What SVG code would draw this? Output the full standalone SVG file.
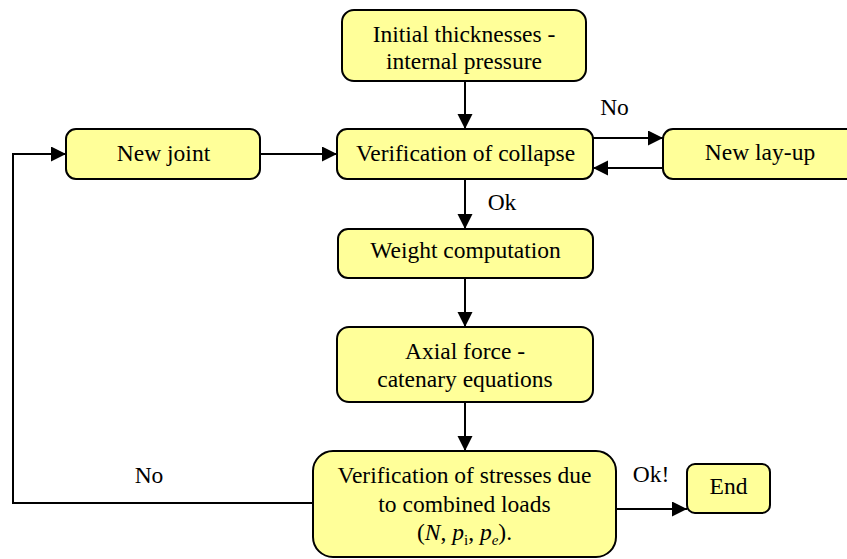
<svg xmlns="http://www.w3.org/2000/svg" width="847" height="559" viewBox="0 0 847 559">
<defs>
<marker id="a" markerUnits="userSpaceOnUse" markerWidth="16" markerHeight="16" refX="15" refY="7.5" orient="auto">
<path d="M0,0 L15,7.5 L0,15 Z" fill="#000"/>
</marker>
</defs>
<g font-family="Liberation Serif" font-size="23.5" text-anchor="middle" fill="#000">
<g id="connectors" stroke-width="2">
<line stroke="#000" x1="465" y1="81" x2="465" y2="129" marker-end="url(#a)"/>
<line stroke="#000" x1="260" y1="154" x2="337" y2="154" marker-end="url(#a)"/>
<line stroke="#000" x1="593" y1="138" x2="663" y2="138" marker-end="url(#a)"/>
<line stroke="#000" x1="663" y1="168" x2="593" y2="168" marker-end="url(#a)"/>
<line stroke="#000" x1="465" y1="179" x2="465" y2="229" marker-end="url(#a)"/>
<line stroke="#000" x1="465" y1="278" x2="465" y2="327" marker-end="url(#a)"/>
<line stroke="#000" x1="465" y1="402" x2="465" y2="451" marker-end="url(#a)"/>
<polyline stroke="#000" fill="none" points="313,503 13,503 13,154 66,154" marker-end="url(#a)"/>
<line stroke="#000" x1="616" y1="509" x2="687" y2="509" marker-end="url(#a)"/>
<text x="614.5" y="115">No</text>
<text x="502" y="210">Ok</text>
<text x="149" y="483">No</text>
<text x="651" y="482">Ok!</text>
</g>
<g id="initial">
<rect fill="#FFFF99" stroke="#000" stroke-width="2" x="342" y="10" width="244" height="71" rx="12"/>
<text x="464" y="42">Initial thicknesses -</text>
<text x="464" y="69">internal pressure</text>
</g>
<g id="newjoint">
<rect fill="#FFFF99" stroke="#000" stroke-width="2" x="66" y="129" width="194" height="50" rx="10"/>
<text x="163.5" y="161">New joint</text>
</g>
<g id="collapse">
<rect fill="#FFFF99" stroke="#000" stroke-width="2" x="337" y="129" width="256" height="50" rx="10"/>
<text x="465.5" y="161">Verification of collapse</text>
</g>
<g id="layup">
<rect fill="#FFFF99" stroke="#000" stroke-width="2" x="663" y="129" width="200" height="50" rx="10"/>
<text x="760" y="160">New lay-up</text>
</g>
<g id="weight">
<rect fill="#FFFF99" stroke="#000" stroke-width="2" x="338" y="229" width="255" height="49" rx="10"/>
<text x="465.5" y="258">Weight computation</text>
</g>
<g id="axial">
<rect fill="#FFFF99" stroke="#000" stroke-width="2" x="337" y="327" width="256" height="75" rx="12"/>
<text x="465" y="359">Axial force -</text>
<text x="465" y="387">catenary equations</text>
</g>
<g id="stresses">
<rect fill="#FFFF99" stroke="#000" stroke-width="2" x="313" y="451" width="303" height="106" rx="20"/>
<text x="464.5" y="483">Verification of stresses due</text>
<text x="464.5" y="512">to combined loads</text>
<text x="464.5" y="540">(<tspan font-style="italic">N</tspan>, <tspan font-style="italic">p</tspan><tspan font-size="15" dy="5">i</tspan><tspan dy="-5">, </tspan><tspan font-style="italic">p</tspan><tspan font-size="15" font-style="italic" dy="5">e</tspan><tspan dy="-5">).</tspan></text>
</g>
<g id="end">
<rect fill="#FFFF99" stroke="#000" stroke-width="2" x="687" y="464" width="83" height="49" rx="8"/>
<text x="728.5" y="494">End</text>
</g>
</g>
</svg>
